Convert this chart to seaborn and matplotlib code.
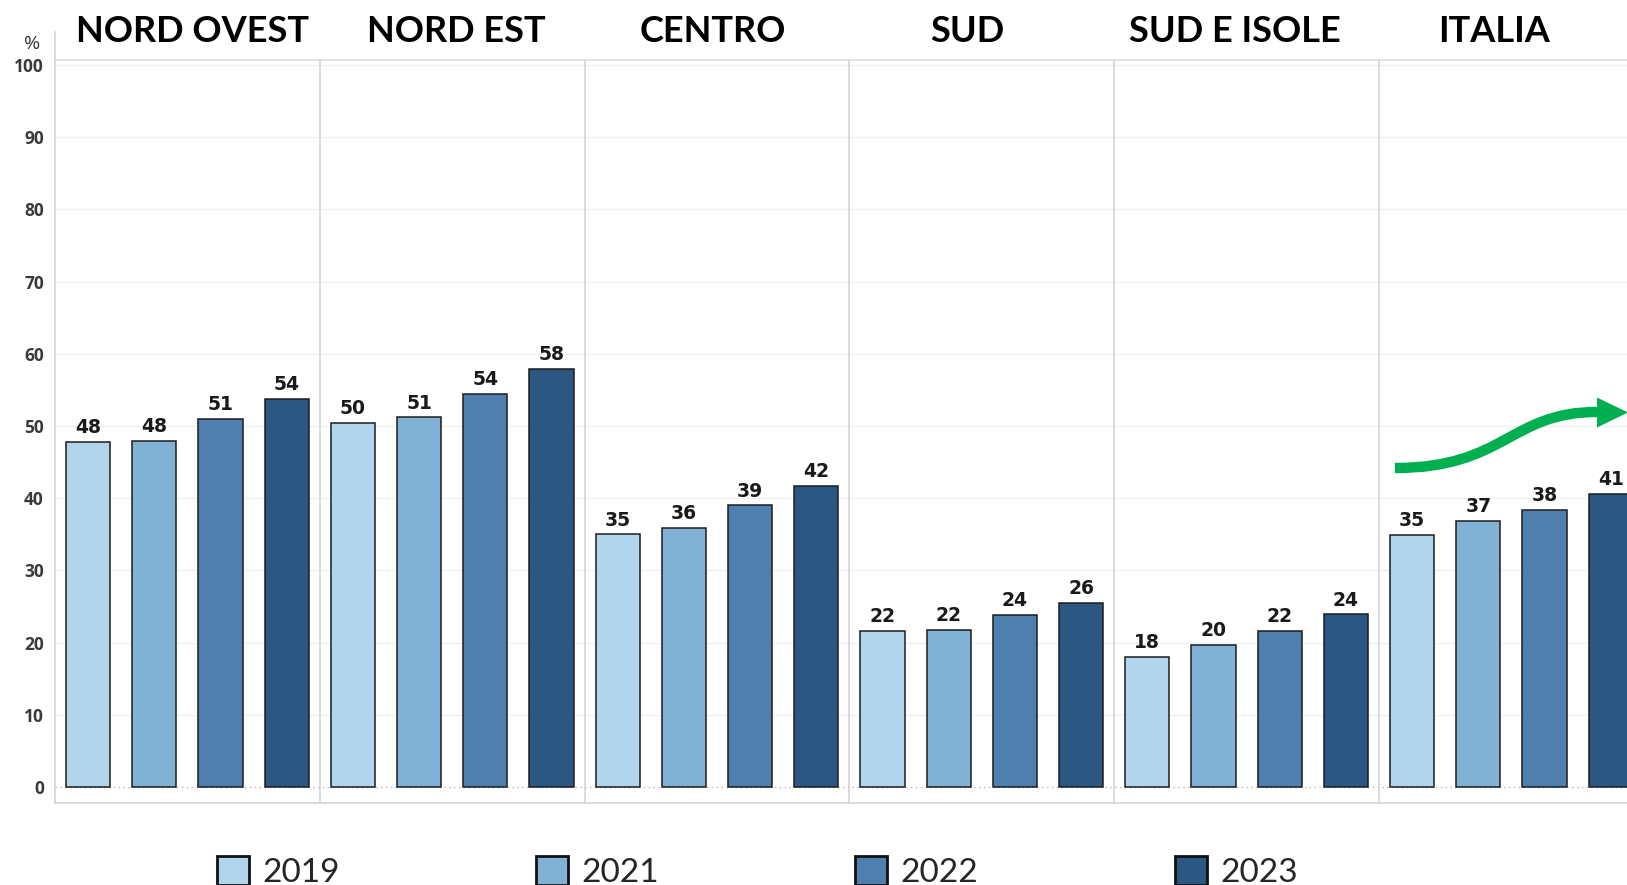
import numpy as np
import pandas as pd
import matplotlib
matplotlib.use("Agg")
import matplotlib.pyplot as plt
from matplotlib.path import Path
from matplotlib.patches import PathPatch, Polygon, Patch
import seaborn as sns

# ---- data -------------------------------------------------------------
regions = ["NORD OVEST", "NORD EST", "CENTRO", "SUD", "SUD E ISOLE", "ITALIA"]
years = ["2019", "2021", "2022", "2023"]
nord_ovest = [47.8, 47.9, 51.0, 53.8]
nord_est = [50.4, 51.2, 54.4, 57.9]
centro = [35.0, 35.9, 39.0, 41.7]
sud = [21.6, 21.8, 23.8, 25.5]
sud_isole = [18.0, 19.7, 21.6, 23.9]
italia = [34.9, 36.9, 38.4, 40.6]
y_ticks = list(range(0, 101, 10))
year_colors = ["#b1d5ec", "#82b1d6", "#4e7fae", "#2c5782"]

values = [nord_ovest, nord_est, centro, sud, sud_isole, italia]
rows = []
for reg, vals in zip(regions, values):
    for yr, v in zip(years, vals):
        rows.append({"region": reg, "year": yr, "slot": f"{reg} {yr}", "value": v})
df = pd.DataFrame(rows)

# ---- figure -----------------------------------------------------------
W, H = 1627, 885
sns.set_theme(style="white")
plt.rcParams["font.family"] = ["Open Sans", "DejaVu Sans"]

fig = plt.figure(figsize=(W / 100, H / 100), dpi=100)
px_per_unit = 7.22
ax_left, ax_right_w = 55, 24 * 66.2
ax_top, ax_bottom = 32, 803
ax = fig.add_axes([ax_left / W, (H - ax_bottom) / H,
                   ax_right_w / W, (ax_bottom - ax_top) / H])

ymin = -(ax_bottom - 787) / px_per_unit
ymax = 100 + (65 - ax_top) / px_per_unit
header_y = 100 + (65 - 60) / px_per_unit

# horizontal gridlines and dotted zero line
for t in y_ticks[1:]:
    ax.axhline(t, color="#f0f0f0", lw=1.0, zorder=0)
ax.axhline(0, color="#b5b5b5", lw=1.0, ls=(0, (1, 2.5)), zorder=0)
ax.axhline(header_y, color="#dcdcdc", lw=1.2, zorder=0)

sns.barplot(data=df, x="slot", y="value", hue="year", palette=year_colors,
            saturation=1, dodge=False, width=0.67, edgecolor="#1c1c1c",
            linewidth=1.1, legend=False, ax=ax, zorder=2)

# panel dividers
n_per = len(years)
dividers = [i * n_per - 0.5 for i in range(1, len(regions))]
ax.vlines(dividers, ymin, header_y, color="#d4d4d4", lw=1.2, zorder=1)

ax.set_xlim(-0.5, len(regions) * n_per - 0.5)
ax.set_ylim(ymin, ymax)
ax.set_xlabel("")
ax.set_ylabel("")
ax.set_xticks([])
ax.set_yticks(y_ticks)
ax.set_yticklabels([str(t) for t in y_ticks])
ax.tick_params(axis="y", length=0, pad=8, labelsize=12.5, labelcolor="#3a3a3a")
for lbl in ax.get_yticklabels():
    lbl.set_fontweight("bold")
for side in ["top", "right"]:
    ax.spines[side].set_visible(False)
for side in ["left", "bottom"]:
    ax.spines[side].set_color("#d4d4d4")
    ax.spines[side].set_linewidth(1.2)

# value labels
for i, v in enumerate(df["value"]):
    ax.annotate(f"{v:.0f}", (i, v), xytext=(0, 6.3), textcoords="offset points",
                ha="center", va="baseline", fontsize=13.5, fontweight="bold",
                family=["DejaVu Sans"], color="#1a1a1a", zorder=3)

# region headers
title_shift = [0.08, 0.06, -0.06, -0.22, -0.18, -0.26]
for k, reg in enumerate(regions):
    cx = k * n_per + (n_per - 1) / 2 + title_shift[k]
    ax.annotate(reg, (cx, 1 - 42 / H), xycoords=("data", "figure fraction"),
                ha="center", va="baseline", fontsize=26, fontweight="bold",
                family=["Lato", "DejaVu Sans"], color="black",
                annotation_clip=False)

fig.text(32 / W, 1 - 44 / H, "%", ha="center", va="center", fontsize=14,
         color="#333333")

# green trend arrow over the Italia panel
def fxy(x, y):
    return (x / W, 1 - y / H)

verts = [fxy(1395, 468), fxy(1505, 468), fxy(1510, 412), fxy(1597, 412), fxy(1600, 412)]
codes = [Path.MOVETO, Path.CURVE4, Path.CURVE4, Path.CURVE4, Path.LINETO]
fig.add_artist(PathPatch(Path(verts, codes), transform=fig.transFigure,
                         facecolor="none", edgecolor="#00b050", lw=7.5,
                         capstyle="butt", joinstyle="round"))
fig.add_artist(Polygon([fxy(1597, 397.5), fxy(1628, 412.5), fxy(1597, 427.5)],
                       closed=True, transform=fig.transFigure,
                       facecolor="#00b050", edgecolor="none"))

# legend
handles = [Patch(facecolor=c, edgecolor="#111111", linewidth=2.0) for c in year_colors]
fig.legend(handles, years, loc="center left",
           bbox_to_anchor=(217 / W, 1 - 872 / H), ncol=4, frameon=False,
           prop={"family": ["Lato", "DejaVu Sans"], "size": 24},
           handlelength=0.95, handleheight=0.95, handletextpad=0.4,
           columnspacing=5.9, borderpad=0, borderaxespad=0)

fig.savefig("out.png", dpi=100)
